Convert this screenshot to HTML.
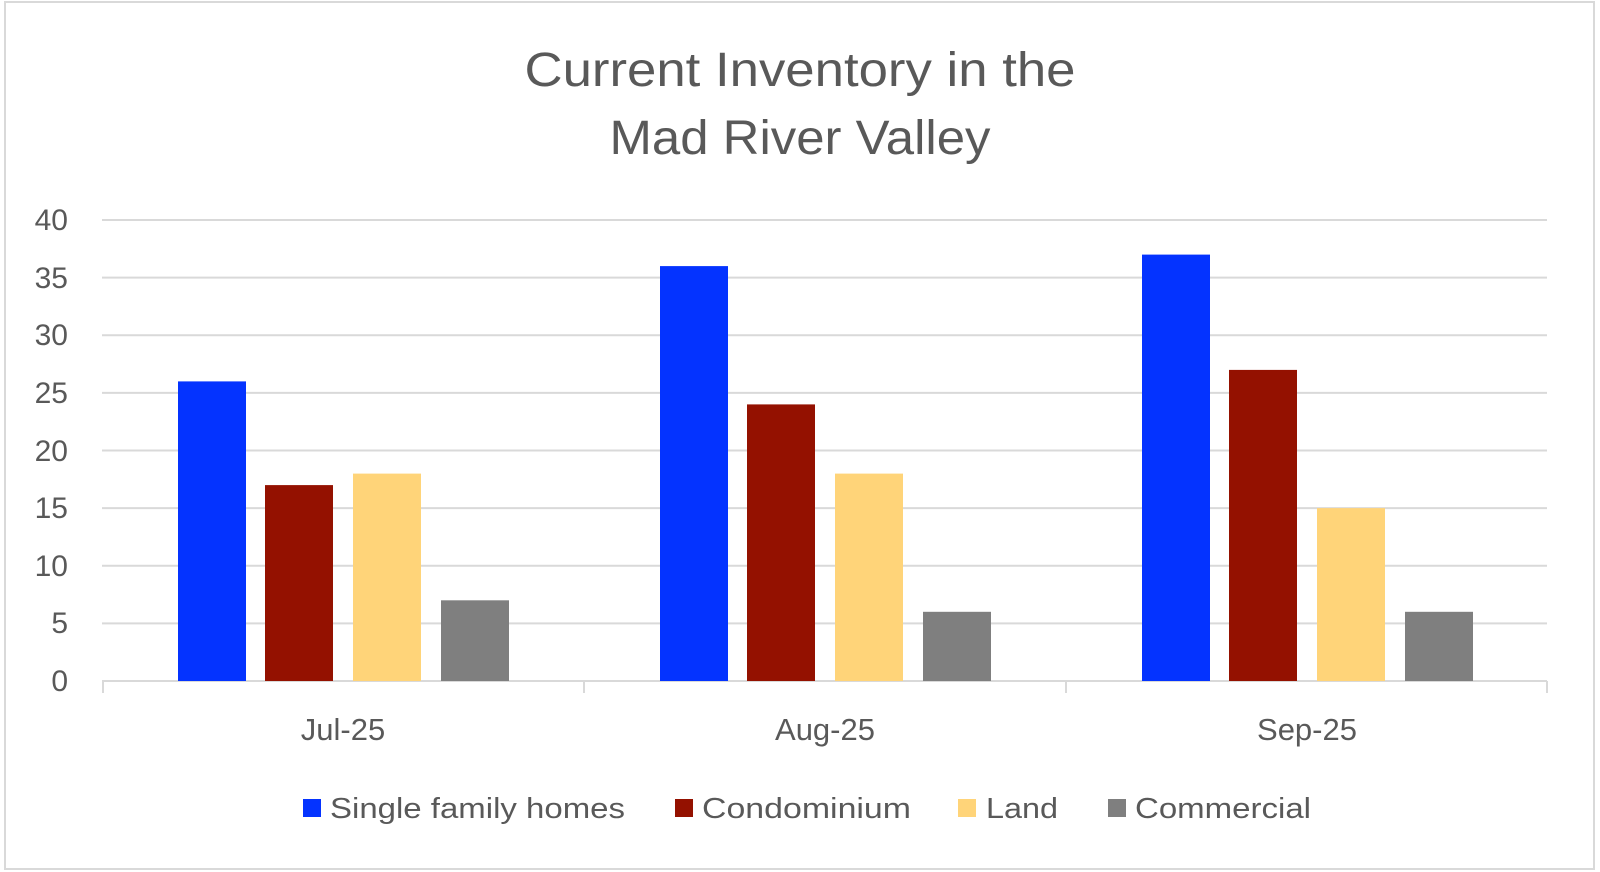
<!DOCTYPE html>
<html><head><meta charset="utf-8"><style>
html,body{margin:0;padding:0;background:#fff;}
svg{display:block;font-family:"Liberation Sans",sans-serif;}
</style></head><body>
<svg width="1600" height="872" viewBox="0 0 1600 872" xmlns="http://www.w3.org/2000/svg">
<rect x="5" y="2" width="1589" height="867" fill="#fff" stroke="#d9d9d9" stroke-width="2"/>
<g fill="#595959" text-anchor="middle" font-size="48">
<text x="800" y="86" textLength="551" lengthAdjust="spacingAndGlyphs">Current Inventory in the</text>
<text x="800" y="154" textLength="381" lengthAdjust="spacingAndGlyphs">Mad River Valley</text>
</g>
<g stroke="#d9d9d9" stroke-width="2">
<line x1="102" x2="1547" y1="220" y2="220"/>
<line x1="102" x2="1547" y1="277.6" y2="277.6"/>
<line x1="102" x2="1547" y1="335.2" y2="335.2"/>
<line x1="102" x2="1547" y1="392.9" y2="392.9"/>
<line x1="102" x2="1547" y1="450.5" y2="450.5"/>
<line x1="102" x2="1547" y1="508.1" y2="508.1"/>
<line x1="102" x2="1547" y1="565.7" y2="565.7"/>
<line x1="102" x2="1547" y1="623.4" y2="623.4"/>
<line x1="102" x2="1547" y1="681" y2="681"/>
<line x1="103" x2="103" y1="681" y2="693"/>
<line x1="584" x2="584" y1="681" y2="693"/>
<line x1="1066" x2="1066" y1="681" y2="693"/>
<line x1="1547" x2="1547" y1="681" y2="693"/>
</g>
<g fill="#595959" font-size="30" text-anchor="end">
<text x="68" y="230">40</text><text x="68" y="288">35</text><text x="68" y="345">30</text>
<text x="68" y="403">25</text><text x="68" y="461">20</text><text x="68" y="518">15</text>
<text x="68" y="576">10</text><text x="68" y="633">5</text><text x="68" y="691">0</text>
</g>
<g>
<rect x="178" y="381.4" width="68" height="299.6" fill="#0433FF"/>
<rect x="265" y="485.1" width="68" height="195.9" fill="#941100"/>
<rect x="353" y="473.6" width="68" height="207.4" fill="#FFD479"/>
<rect x="441" y="600.3" width="68" height="80.7" fill="#7F7F7F"/>
<rect x="660" y="266.1" width="68" height="414.9" fill="#0433FF"/>
<rect x="747" y="404.4" width="68" height="276.6" fill="#941100"/>
<rect x="835" y="473.6" width="68" height="207.4" fill="#FFD479"/>
<rect x="923" y="611.8" width="68" height="69.2" fill="#7F7F7F"/>
<rect x="1142" y="254.6" width="68" height="426.4" fill="#0433FF"/>
<rect x="1229" y="369.9" width="68" height="311.1" fill="#941100"/>
<rect x="1317" y="508.1" width="68" height="172.9" fill="#FFD479"/>
<rect x="1405" y="611.8" width="68" height="69.2" fill="#7F7F7F"/>
</g>
<g fill="#595959" font-size="31" text-anchor="middle">
<text x="343" y="740">Jul-25</text>
<text x="825" y="740">Aug-25</text>
<text x="1307" y="740">Sep-25</text>
</g>
<g font-size="29" fill="#595959">
<rect x="303" y="799" width="18" height="18" fill="#0433FF"/>
<text x="330" y="818" textLength="295" lengthAdjust="spacingAndGlyphs">Single family homes</text>
<rect x="675" y="799" width="18" height="18" fill="#941100"/>
<text x="702" y="818" textLength="209" lengthAdjust="spacingAndGlyphs">Condominium</text>
<rect x="958" y="799" width="18" height="18" fill="#FFD479"/>
<text x="986" y="818" textLength="72" lengthAdjust="spacingAndGlyphs">Land</text>
<rect x="1108" y="799" width="18" height="18" fill="#7F7F7F"/>
<text x="1135" y="818" textLength="176" lengthAdjust="spacingAndGlyphs">Commercial</text>
</g>
</svg>
</body></html>
